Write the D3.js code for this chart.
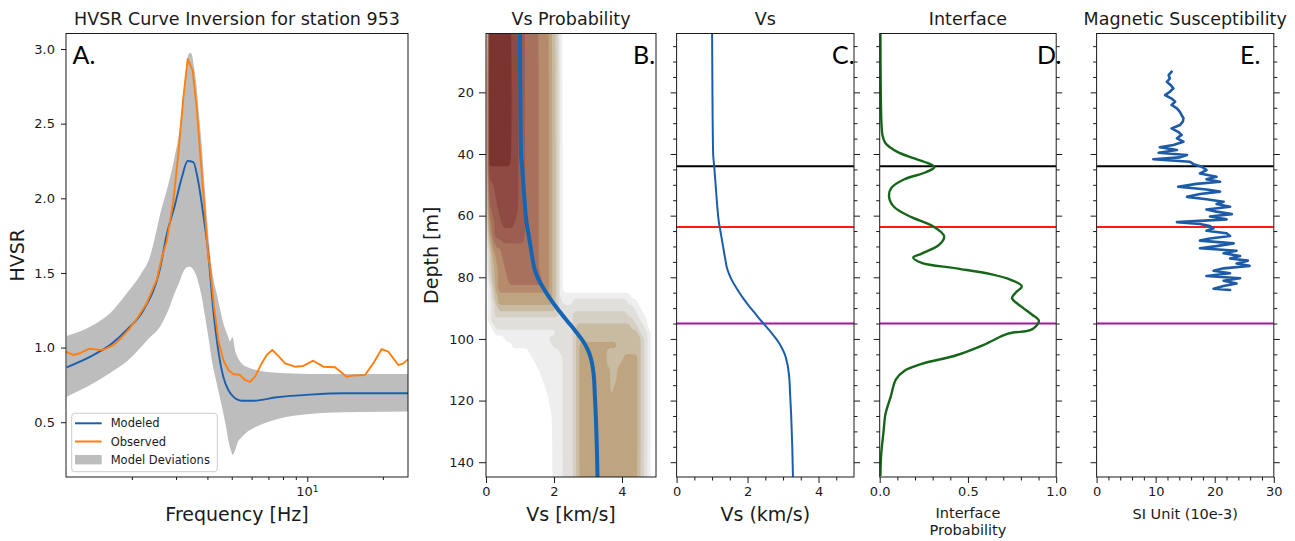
<!DOCTYPE html>
<html>
<head>
<meta charset="utf-8">
<title>HVSR inversion – station 953</title>
<script src="https://cdn.jsdelivr.net/npm/d3@7"></script>
<style>
  html, body { margin: 0; padding: 0; background: #ffffff; }
  svg { display: block; }
</style>
</head>
<body>
<svg id="figure" width="1295" height="541"></svg>
<script>
// ---------------- Panel A: HVSR curves (frequency in Hz) ----------------
const modelFreq = [1.100, 1.404, 1.637, 1.908, 2.222, 2.589, 2.753, 2.971, 3.159, 3.338, 3.514, 3.679, 3.852, 4.033, 4.222, 4.420, 4.627, 4.845, 5.073, 5.478, 6.093, 7.553, 10.25, 13.91, 25.2];
const modelHvsr = [0.868, 0.950, 1.017, 1.118, 1.250, 1.530, 1.756, 1.957, 2.136, 2.250, 2.243, 2.110, 1.890, 1.630, 1.250, 0.980, 0.805, 0.716, 0.671, 0.644, 0.644, 0.667, 0.685, 0.694, 0.694];

const obsFreq = [1.093, 1.169, 1.243, 1.341, 1.404, 1.493, 1.563, 1.687, 1.794, 1.966, 2.122, 2.292, 2.512, 2.630, 2.753, 2.925, 3.062, 3.206, 3.338, 3.495, 3.626, 3.737, 3.876, 4.033, 4.097, 4.249, 4.420, 4.627, 4.845, 5.073, 5.394, 5.647, 5.912, 6.189, 6.58, 6.89, 7.256, 7.665, 8.152, 8.93, 9.64, 10.56, 11.58, 12.9, 14.35, 15.25, 16.98, 18.32, 19.79, 21.02, 23.04, 24.13, 25.19];
const obsHvsr = [0.973, 0.950, 0.962, 0.990, 0.990, 0.984, 0.990, 1.017, 1.056, 1.130, 1.207, 1.297, 1.453, 1.600, 1.712, 1.980, 2.292, 2.672, 2.933, 2.855, 2.605, 2.315, 1.980, 1.600, 1.542, 1.274, 1.051, 0.917, 0.850, 0.823, 0.816, 0.783, 0.770, 0.805, 0.894, 0.950, 0.984, 0.944, 0.894, 0.872, 0.877, 0.912, 0.872, 0.868, 0.805, 0.812, 0.816, 0.894, 0.990, 0.973, 0.883, 0.894, 0.921];

const devFreq = [1.100, 1.404, 1.637, 1.908, 2.167, 2.362, 2.474, 2.589, 2.761, 2.971, 3.110, 3.206, 3.287, 3.357, 3.410, 3.463, 3.537, 3.626, 3.703, 3.796, 3.876, 3.974, 4.060, 4.160, 4.249, 4.355, 4.489, 4.627, 4.743, 4.845, 4.920, 4.989, 5.045, 5.152, 5.295, 5.478, 5.752, 6.093, 6.785, 7.553, 8.795, 10.25, 11.95, 16.22, 25.19];
const devUpper = [1.078, 1.152, 1.230, 1.364, 1.490, 1.610, 1.740, 1.890, 2.060, 2.290, 2.480, 2.690, 2.860, 2.960, 2.975, 2.965, 2.880, 2.740, 2.560, 2.360, 2.140, 1.890, 1.700, 1.533, 1.440, 1.364, 1.260, 1.163, 1.110, 1.069, 1.040, 1.060, 1.069, 0.984, 0.930, 0.894, 0.870, 0.855, 0.838, 0.832, 0.826, 0.823, 0.823, 0.823, 0.823];
const devLower = [0.671, 0.761, 0.830, 0.906, 1.000, 1.070, 1.100, 1.140, 1.230, 1.370, 1.450, 1.508, 1.535, 1.542, 1.542, 1.535, 1.515, 1.475, 1.420, 1.340, 1.250, 1.140, 1.040, 0.920, 0.840, 0.761, 0.660, 0.560, 0.470, 0.381, 0.330, 0.300, 0.280, 0.310, 0.370, 0.400, 0.435, 0.460, 0.495, 0.520, 0.544, 0.555, 0.564, 0.568, 0.571];

const hvsrTicks = [0.5, 1.0, 1.5, 2.0, 2.5, 3.0];
const freqMajorTicks = [10];
const freqMinorTicks = [2, 3, 4, 5, 6, 7, 8, 9, 20];

// ---------------- Panel B: Vs probability density ----------------
// Density level (0-10, hex digit) sampled every 0.1 km/s from 0 to 5 km/s,
// one row per listed depth (groups of ten samples separated by spaces).
const probVsStep = 0.1;
const probVsMax = 5.0;
const probDepths = [0, 42, 46, 52, 58, 62, 66, 72, 77, 81, 84, 86, 88, 90, 92, 94, 96, 98, 100, 102, 104, 106, 108, 110, 113, 116, 120, 126, 148];
const probLevels = [
  "2aaaaaaa99 8877776665 431",
  "2aaaaaaa99 8877776665 431",
  "2999999999 8877776665 431",
  "2889999999 8877776665 431",
  "2788999999 8877776665 431",
  "1678899998 8877776665 431",
  "1578888888 8877776665 431",
  "0356677777 7777776665 431",
  "0345667777 7777776665 431",
  "0245666777 7777777665 431",
  "0135666666 6666666665 431",
  "0134555555 5555555555 4311111111 1111111111 1110000000 0",
  "0124555555 5555555555 4321112222 2222222222 2211100000 0",
  "0123444444 4444444444 4322222222 2222222222 2222110000 0",
  "0123333333 3333333333 3322223333 3333333333 3322211000 0",
  "0122222222 2222222222 2222223333 3333333333 3333221100 0",
  "0012222222 2222222222 2222223444 4444444444 4443322100 0",
  "0001111111 1111111111 1222223444 4444444444 4444432210 0",
  "0000001111 1111111112 2222223444 4444444444 4444443210 0",
  "0000000011 1111111111 2222223455 5555555554 4444443210 0",
  "0000000000 0001111111 1122223455 5555554444 4444443210 0",
  "0000000000 0000111111 1112223455 5555554444 4555543210 0",
  "0000000000 0000011111 1112223455 5555554444 5555543210 0",
  "0000000000 0000001111 1112223455 5555555445 5555543210 0",
  "0000000000 0000000111 1112223455 5555555445 5555543210 0",
  "0000000000 0000000011 1112223455 5555555455 5555543210 0",
  "0000000000 0000000001 1112223455 5555555555 5555543210 0",
  "0000000000 0000000000 1112223455 5555555555 5555543210 0",
  "0000000000 0000000000 1112223455 5555555555 5555543210 0"
];
const probColors = ["#eeeeee", "#e1dfdc", "#d5cfc4", "#c9bba1", "#bea47f", "#b58b6c", "#a8715d", "#9c5e50", "#8e4a43", "#7b3430"];

// ---------------- Panels B / C: mean Vs profile ----------------
const vsDepth = [0, 20, 40, 44, 50, 56, 62, 66, 70, 74, 77, 79, 81, 83, 85, 87, 89, 91, 93, 95, 97, 99, 101, 103, 105, 108, 112, 118, 125, 135, 145];
const vsMean = [1.00, 1.01, 1.03, 1.06, 1.10, 1.14, 1.19, 1.25, 1.31, 1.37, 1.42, 1.48, 1.56, 1.66, 1.77, 1.89, 2.02, 2.16, 2.30, 2.45, 2.60, 2.74, 2.87, 2.97, 3.05, 3.12, 3.17, 3.20, 3.23, 3.26, 3.28];
const vsTicks = [0, 2, 4];
const vsMinorTicks = [0.5, 1, 1.5, 2.5, 3, 3.5, 4.5];

// ---------------- Panel D: interface probability ----------------
const ifaceDepth = [1, 20, 30, 34, 36.5, 39.3, 41.5, 43.6, 44.3, 46, 48.2, 51, 53.8, 57.2, 60.5, 63.3, 66.7, 69.5, 72.3, 73.6, 75.3, 77.1, 79.0, 80.9, 82.9, 85.0, 86.8, 89.6, 92.0, 94.1, 96.9, 98.3, 101.9, 105.3, 108.1, 110.3, 113.1, 118.7, 124.3, 130, 137.8, 144.5];
const ifaceProb = [0.004, 0.006, 0.01, 0.016, 0.033, 0.10, 0.20, 0.297, 0.31, 0.258, 0.14, 0.066, 0.053, 0.082, 0.18, 0.297, 0.365, 0.336, 0.238, 0.19, 0.238, 0.434, 0.629, 0.746, 0.805, 0.77, 0.75, 0.805, 0.86, 0.902, 0.863, 0.727, 0.59, 0.434, 0.238, 0.141, 0.092, 0.0625, 0.033, 0.022, 0.008, 0.004];
const probTicks = [0, 0.5, 1.0];
const probMinorTicks = [0.1, 0.2, 0.3, 0.4, 0.6, 0.7, 0.8, 0.9];

// ---------------- Panel E: magnetic susceptibility log ----------------
const magDepth = [13.3, 14.4, 15.5, 16.6, 17.6, 18.7, 19.8, 20.9, 22.0, 23.0, 24.1, 25.2, 26.3, 27.4, 28.4, 29.5, 30.6, 31.7, 32.8, 33.8, 34.9, 36.0, 37.1, 37.8, 38.7, 39.6, 40.3, 41.1, 41.7, 42.5, 43.3, 44.1, 45.2, 46.3, 47.4, 48.2, 49.0, 49.7, 50.6, 51.5, 52.2, 53.0, 53.9, 54.7, 55.5, 56.2, 57.1, 58.0, 58.7, 59.5, 60.3, 61.2, 62.1, 62.7, 63.4, 64.1, 64.9, 65.7, 66.6, 67.4, 68.1, 69.0, 69.9, 70.6, 71.4, 72.2, 73.1, 73.9, 74.6, 75.5, 76.3, 77.1, 77.9, 78.7, 79.6, 80.3, 81.1, 82.0, 82.8, 83.7, 84.1];
const magSus = [12.7, 12.2, 12.4, 11.9, 12.5, 13.0, 12.4, 11.6, 12.7, 13.3, 12.7, 13.6, 14.1, 14.4, 14.7, 14.6, 14.1, 12.7, 13.8, 14.4, 13.6, 14.7, 13.0, 10.7, 13.6, 10.5, 15.3, 14.1, 9.6, 15.8, 16.4, 17.8, 18.6, 17.5, 20.3, 18.6, 20.9, 16.9, 13.8, 18.6, 20.9, 17.5, 15.3, 18.6, 21.5, 20.3, 22.6, 18.6, 20.3, 22.9, 19.2, 22.0, 13.6, 17.5, 19.2, 19.8, 18.6, 22.0, 22.6, 19.2, 17.5, 23.2, 20.3, 17.5, 23.7, 21.5, 24.3, 22.6, 25.6, 23.7, 25.9, 21.5, 19.8, 22.6, 18.6, 24.3, 21.5, 23.7, 21.5, 19.8, 22.6];
const susTicks = [0, 10, 20, 30];
const susMinorTicks = [2, 4, 6, 8, 12, 14, 16, 18, 22, 24, 26, 28];

// ---------------- Shared depth axis and picked interfaces ----------------
const depthTicks = [20, 40, 60, 80, 100, 120, 140];
const depthMinorTicks = [5, 10, 15, 25, 30, 35, 45, 50, 55, 65, 70, 75, 85, 90, 95, 105, 110, 115, 125, 130, 135];
const interfaceDepths = [44, 63.7, 95];
const interfaceColors = ["#000000", "#ff1a1a", "#a3169e"];

// ======================= drawing =======================
const FONT = '"DejaVu Sans", "Noto Sans", sans-serif';
const LETTER_FONT = 'Lato, "Open Sans", sans-serif';
const INK = "#1a1a1a";
const plotTop = 33.5, plotBottom = 477;

const boxA = { x0: 66, x1: 408 };
const boxB = { x0: 486, x1: 656 };
const boxC = { x0: 676.6, x1: 854 };
const boxD = { x0: 879.7, x1: 1056.2 };
const boxE = { x0: 1096.6, x1: 1273.8 };

const svg = d3.select("#figure");
const defs = svg.append("defs");
[["clipA", boxA], ["clipB", boxB], ["clipC", boxC], ["clipD", boxD], ["clipE", boxE]].forEach(([id, b]) => {
  defs.append("clipPath").attr("id", id).append("rect")
    .attr("x", b.x0).attr("y", plotTop).attr("width", b.x1 - b.x0).attr("height", plotBottom - plotTop);
});

function styleAxis(g, fontSize) {
  g.attr("font-family", FONT).attr("font-size", fontSize || 13);
  g.select(".domain").remove();
  g.selectAll(".tick line").attr("stroke", INK).attr("stroke-width", 1);
  g.selectAll(".tick text").attr("fill", INK);
}

function frame(b) {
  svg.append("rect").attr("x", b.x0).attr("y", plotTop)
    .attr("width", b.x1 - b.x0).attr("height", plotBottom - plotTop)
    .attr("fill", "none").attr("stroke", INK).attr("stroke-width", 1);
}

function title(b, txt) {
  svg.append("text").attr("x", (b.x0 + b.x1) / 2).attr("y", 25)
    .attr("text-anchor", "middle").attr("font-family", FONT).attr("font-size", 17.5)
    .attr("fill", INK).text(txt);
}

function letter(x, txt) {
  svg.append("text").attr("x", x).attr("y", 64)
    .attr("font-family", LETTER_FONT).attr("font-size", 25).attr("fill", "#000").text(txt);
}

const yDepth = d3.scaleLinear().domain([0.9, 144.8]).range([plotTop, plotBottom]);

// ---------------- Panel A ----------------
const xA = d3.scaleLog().domain([1.093, 25.19]).range([boxA.x0, boxA.x1]);
const yA = d3.scaleLinear().domain([0.133, 3.104]).range([plotBottom, plotTop]);
const gA = svg.append("g");
const plotA = gA.append("g").attr("clip-path", "url(#clipA)");

plotA.append("path")
  .datum(devFreq.map((f, i) => [f, devLower[i], devUpper[i]]))
  .attr("d", d3.area().x(d => xA(d[0])).y0(d => yA(d[1])).y1(d => yA(d[2])).curve(d3.curveMonotoneX))
  .attr("fill", "#bdbdbd");

plotA.append("path")
  .datum(modelFreq.map((f, i) => [f, modelHvsr[i]]))
  .attr("d", d3.line().x(d => xA(d[0])).y(d => yA(d[1])).curve(d3.curveMonotoneX))
  .attr("fill", "none").attr("stroke", "#1c5fac").attr("stroke-width", 1.9);

plotA.append("path")
  .datum(obsFreq.map((f, i) => [f, obsHvsr[i]]))
  .attr("d", d3.line().x(d => xA(d[0])).y(d => yA(d[1])))
  .attr("fill", "none").attr("stroke", "#ff7f0e").attr("stroke-width", 1.9).attr("stroke-linejoin", "round");

gA.append("g").attr("transform", `translate(${boxA.x0},0)`)
  .call(d3.axisLeft(yA).tickValues(hvsrTicks).tickFormat(d3.format(".1f")).tickSize(5).tickPadding(6))
  .call(g => styleAxis(g, 13));
gA.append("g").attr("transform", `translate(0,${plotBottom})`)
  .call(d3.axisBottom(xA).tickValues(freqMajorTicks).tickSize(5).tickFormat(() => ""))
  .call(g => styleAxis(g, 13));
gA.append("g").attr("transform", `translate(0,${plotBottom})`)
  .call(d3.axisBottom(xA).tickValues(freqMinorTicks).tickSize(3).tickFormat(() => ""))
  .call(g => styleAxis(g, 13));
freqMajorTicks.forEach(v => {
  const t = gA.append("text").attr("x", xA(v)).attr("y", plotBottom + 10).attr("dy", "0.71em")
    .attr("text-anchor", "middle").attr("font-family", FONT).attr("font-size", 13).attr("fill", INK);
  t.append("tspan").text("10");
  t.append("tspan").attr("dy", "-0.45em").attr("font-size", 9).text(String(Math.round(Math.log10(v))));
});

// legend
const leg = gA.append("g");
leg.append("rect").attr("x", 71.7).attr("y", 413.3).attr("width", 145.6).attr("height", 58.4)
  .attr("rx", 3).attr("fill", "#ffffff").attr("fill-opacity", 0.85).attr("stroke", "#cccccc");
const legItems = [
  { label: "Modeled", color: "#1c5fac", kind: "line" },
  { label: "Observed", color: "#ff7f0e", kind: "line" },
  { label: "Model Deviations", color: "#bdbdbd", kind: "patch" }
];
legItems.forEach((it, i) => {
  const cy = 423.3 + i * 18.2;
  if (it.kind === "line") {
    leg.append("line").attr("x1", 75).attr("x2", 101.7).attr("y1", cy).attr("y2", cy)
      .attr("stroke", it.color).attr("stroke-width", 2);
  } else {
    leg.append("rect").attr("x", 75).attr("y", cy - 4.7).attr("width", 26.7).attr("height", 9.4).attr("fill", it.color);
  }
  leg.append("text").attr("x", 110.7).attr("y", cy + 4).attr("font-family", FONT)
    .attr("font-size", 11.5).attr("fill", INK).text(it.label);
});

frame(boxA);
title(boxA, "HVSR Curve Inversion for station 953");
letter(72.5, "A.");
svg.append("text").attr("transform", `translate(24,${(plotTop + plotBottom) / 2}) rotate(-90)`)
  .attr("text-anchor", "middle").attr("font-family", FONT).attr("font-size", 19).attr("fill", INK).text("HVSR");
svg.append("text").attr("x", (boxA.x0 + boxA.x1) / 2).attr("y", 521)
  .attr("text-anchor", "middle").attr("font-family", FONT).attr("font-size", 19).attr("fill", INK).text("Frequency [Hz]");

// ---------------- Panel B ----------------
const xB = d3.scaleLinear().domain([0, probVsMax]).range([boxB.x0, boxB.x1]);
const gB = svg.append("g");
const nCols = Math.round(probVsMax / probVsStep) + 1;
const grid = probLevels.flatMap(row =>
  row.replace(/\s+/g, "").padEnd(nCols, "0").slice(0, nCols).split("").map(c => parseInt(c, 16)));
const contours = d3.contours()
  .size([nCols, probDepths.length])
  .thresholds(probColors.map((c, i) => i + 0.5))(grid);
const rowToDepth = d3.scaleLinear().domain(d3.range(probDepths.length)).range(probDepths);
// grid sample j sits at contour coordinate j + 0.5
const gridToPx = ([x, y]) => [xB((x - 0.5) * probVsStep), yDepth(rowToDepth(y - 0.5))];
const ringPath = d3.line().curve(d3.curveBasisClosed);
const contourPath = mp => mp.coordinates
  .map(poly => poly.map(ring => ringPath(ring.slice(0, -1).map(gridToPx))).join(""))
  .join("");
gB.append("g").attr("clip-path", "url(#clipB)")
  .selectAll("path").data(contours).join("path")
  .attr("d", contourPath)
  .attr("fill", (d, i) => probColors[i]);

const vsLineB = d3.line().x(d => xB(d[0])).y(d => yDepth(d[1])).curve(d3.curveMonotoneY);
gB.append("path").attr("clip-path", "url(#clipB)")
  .datum(vsMean.map((v, i) => [v, vsDepth[i]]))
  .attr("d", vsLineB).attr("fill", "none").attr("stroke", "#1565b5").attr("stroke-width", 4);

gB.append("g").attr("transform", `translate(${boxB.x0},0)`)
  .call(d3.axisLeft(yDepth).tickValues(depthTicks).tickFormat(d3.format("d")).tickSize(7).tickPadding(5))
  .call(g => styleAxis(g, 13));
gB.append("g").attr("transform", `translate(0,${plotBottom})`)
  .call(d3.axisBottom(xB).tickValues(vsTicks).tickFormat(d3.format("d")).tickSize(6).tickPadding(4))
  .call(g => styleAxis(g, 13));
frame(boxB);
title(boxB, "Vs Probability");
letter(633, "B.");
svg.append("text").attr("transform", `translate(438,${(plotTop + plotBottom) / 2}) rotate(-90)`)
  .attr("text-anchor", "middle").attr("font-family", FONT).attr("font-size", 19).attr("fill", INK).text("Depth [m]");
svg.append("text").attr("x", (boxB.x0 + boxB.x1) / 2).attr("y", 521)
  .attr("text-anchor", "middle").attr("font-family", FONT).attr("font-size", 19).attr("fill", INK).text("Vs [km/s]");

// ---------------- shared helpers for depth panels C-E ----------------
function depthTicksBothSides(g, b) {
  g.append("g").attr("transform", `translate(${b.x0},0)`)
    .call(d3.axisLeft(yDepth).tickValues(depthTicks).tickSize(6).tickFormat(() => "")).call(s => styleAxis(s));
  g.append("g").attr("transform", `translate(${b.x0},0)`)
    .call(d3.axisLeft(yDepth).tickValues(depthMinorTicks).tickSize(3.5).tickFormat(() => "")).call(s => styleAxis(s));
  g.append("g").attr("transform", `translate(${b.x1},0)`)
    .call(d3.axisRight(yDepth).tickValues(depthTicks).tickSize(6).tickFormat(() => "")).call(s => styleAxis(s));
  g.append("g").attr("transform", `translate(${b.x1},0)`)
    .call(d3.axisRight(yDepth).tickValues(depthMinorTicks).tickSize(3.5).tickFormat(() => "")).call(s => styleAxis(s));
}
function interfaceLines(g, b, clipId) {
  g.append("g").attr("clip-path", `url(#${clipId})`)
    .selectAll("line").data(interfaceDepths).join("line")
    .attr("x1", b.x0).attr("x2", b.x1)
    .attr("y1", d => yDepth(d)).attr("y2", d => yDepth(d))
    .attr("stroke", (d, i) => interfaceColors[i]).attr("stroke-width", 2);
}
function bottomAxis(g, scale, major, minor, fmt) {
  g.append("g").attr("transform", `translate(0,${plotBottom})`)
    .call(d3.axisBottom(scale).tickValues(major).tickFormat(fmt).tickSize(6).tickPadding(4))
    .call(s => styleAxis(s, 13));
  g.append("g").attr("transform", `translate(0,${plotBottom})`)
    .call(d3.axisBottom(scale).tickValues(minor).tickFormat(() => "").tickSize(3.5))
    .call(s => styleAxis(s, 13));
}

// ---------------- Panel C ----------------
const xC = d3.scaleLinear().domain([0, 5]).range([boxC.x0, boxC.x1]);
const gC = svg.append("g");
interfaceLines(gC, boxC, "clipC");
gC.append("path").attr("clip-path", "url(#clipC)")
  .datum(vsMean.map((v, i) => [v, vsDepth[i]]))
  .attr("d", d3.line().x(d => xC(d[0])).y(d => yDepth(d[1])).curve(d3.curveMonotoneY))
  .attr("fill", "none").attr("stroke", "#1a5eab").attr("stroke-width", 2);
depthTicksBothSides(gC, boxC);
bottomAxis(gC, xC, vsTicks, vsMinorTicks, d3.format("d"));
frame(boxC);
title(boxC, "Vs");
letter(832, "C.");
svg.append("text").attr("x", (boxC.x0 + boxC.x1) / 2).attr("y", 521)
  .attr("text-anchor", "middle").attr("font-family", FONT).attr("font-size", 19).attr("fill", INK).text("Vs (km/s)");

// ---------------- Panel D ----------------
const xD = d3.scaleLinear().domain([0, 1]).range([boxD.x0, boxD.x1]);
const gD = svg.append("g");
interfaceLines(gD, boxD, "clipD");
gD.append("path").attr("clip-path", "url(#clipD)")
  .datum(ifaceProb.map((p, i) => [p, ifaceDepth[i]]))
  .attr("d", d3.line().x(d => xD(d[0])).y(d => yDepth(d[1])).curve(d3.curveCatmullRom))
  .attr("fill", "none").attr("stroke", "#16661a").attr("stroke-width", 2.4);
depthTicksBothSides(gD, boxD);
bottomAxis(gD, xD, probTicks, probMinorTicks, d3.format(".1f"));
frame(boxD);
title(boxD, "Interface");
letter(1037, "D.");
const dLabel = svg.append("text").attr("text-anchor", "middle").attr("font-family", FONT)
  .attr("font-size", 14.5).attr("fill", INK);
dLabel.append("tspan").attr("x", (boxD.x0 + boxD.x1) / 2).attr("y", 518).text("Interface");
dLabel.append("tspan").attr("x", (boxD.x0 + boxD.x1) / 2).attr("y", 535).text("Probability");

// ---------------- Panel E ----------------
const xE = d3.scaleLinear().domain([0, 30]).range([boxE.x0, boxE.x1]);
const gE = svg.append("g");
interfaceLines(gE, boxE, "clipE");
gE.append("path").attr("clip-path", "url(#clipE)")
  .datum(magSus.map((s, i) => [s, magDepth[i]]))
  .attr("d", d3.line().x(d => xE(d[0])).y(d => yDepth(d[1])))
  .attr("fill", "none").attr("stroke", "#1d5ba8").attr("stroke-width", 2.6)
  .attr("stroke-linejoin", "round").attr("stroke-linecap", "round");
depthTicksBothSides(gE, boxE);
bottomAxis(gE, xE, susTicks, susMinorTicks, d3.format("d"));
frame(boxE);
title(boxE, "Magnetic Susceptibility");
letter(1240, "E.");
svg.append("text").attr("x", (boxE.x0 + boxE.x1) / 2).attr("y", 519)
  .attr("text-anchor", "middle").attr("font-family", FONT).attr("font-size", 14.5).attr("fill", INK).text("SI Unit (10e-3)");
</script>
</body>
</html>
